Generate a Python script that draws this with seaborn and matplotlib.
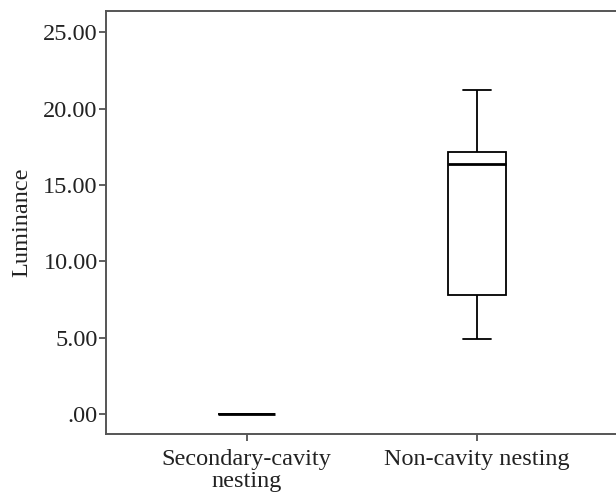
import matplotlib
matplotlib.use("Agg")
import matplotlib.pyplot as plt
import pandas as pd
import seaborn as sns

# Nesting groups and luminance values
groups = ["Secondary-cavity\nnesting", "Non-cavity nesting"]
secondary_values = [0.0, 0.0, 0.0, 0.0, 0.0]
noncavity_values = [4.89, 7.77, 16.37, 17.14, 21.2]
y_ticks = [0, 5, 10, 15, 20, 25]
y_tick_labels = [".00", "5.00", "10.00", "15.00", "20.00", "25.00"]

df = pd.DataFrame({
    "group": [groups[0]] * len(secondary_values) + [groups[1]] * len(noncavity_values),
    "luminance": secondary_values + noncavity_values,
})

sns.set_style("white")
plt.rcParams["font.family"] = ["Liberation Serif", "DejaVu Serif"]

fig = plt.figure(figsize=(6.16, 4.97), dpi=100)
ax = fig.add_axes([0.172, 0.127, 0.838, 0.851])

sns.boxplot(
    data=df, x="group", y="luminance", order=groups,
    width=0.25, color="white", linecolor="black", linewidth=1.3,
    medianprops={"linewidth": 2.0, "color": "black"},
    showfliers=False, ax=ax,
)

ax.set_xlim(-0.61, 1.63)
ax.set_ylim(-1.31, 26.4)
ax.set_yticks(y_ticks)
ax.set_yticklabels(y_tick_labels)
ax.set_xlabel("")
ax.set_ylabel("Luminance", fontsize=17.5, color="#222222", labelpad=8)

for s in ax.spines.values():
    s.set_color("#555555")
    s.set_linewidth(1.4)

ax.tick_params(axis="y", which="major", direction="out", length=5, width=1.2,
               color="#444444", labelsize=17.5, labelcolor="#222222", pad=1, left=True)
ax.tick_params(axis="x", which="major", direction="out", length=5, width=1.2,
               color="#444444", labelsize=17.5, labelcolor="#222222", pad=6, bottom=True)
for lbl in ax.get_xticklabels():
    lbl.set_linespacing(1.05)

fig.savefig("out.png", dpi=100, facecolor="white")
